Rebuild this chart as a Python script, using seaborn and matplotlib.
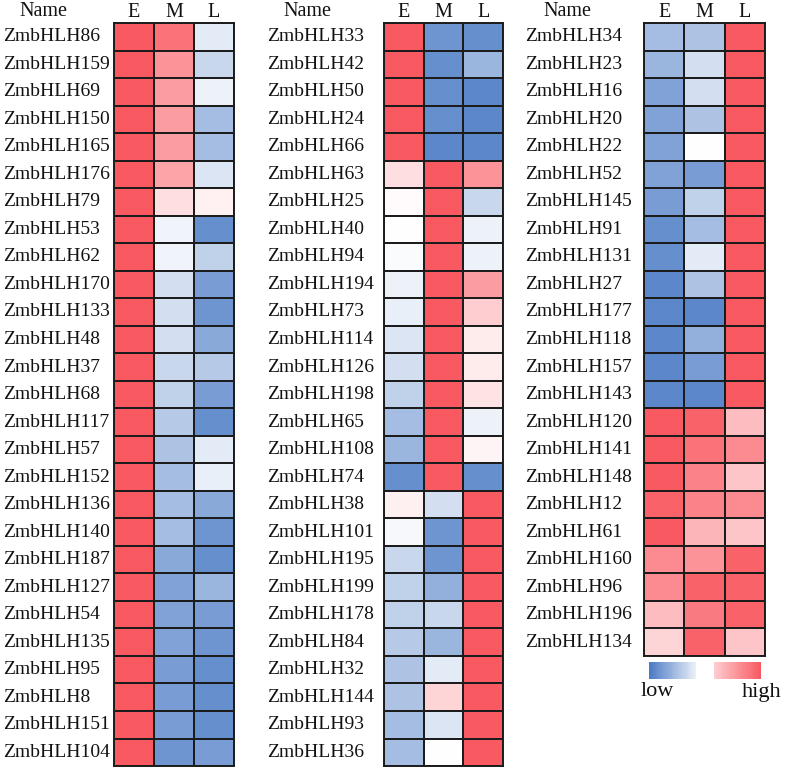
import numpy as np
import pandas as pd
import matplotlib
matplotlib.use("Agg")
import matplotlib.pyplot as plt
import seaborn as sns
from matplotlib.colors import LinearSegmentedColormap

# ---------------- data ----------------
stages = ["E", "M", "L"]

genes1 = ["ZmbHLH86", "ZmbHLH159", "ZmbHLH69", "ZmbHLH150", "ZmbHLH165", "ZmbHLH176",
          "ZmbHLH79", "ZmbHLH53", "ZmbHLH62", "ZmbHLH170", "ZmbHLH133", "ZmbHLH48",
          "ZmbHLH37", "ZmbHLH68", "ZmbHLH117", "ZmbHLH57", "ZmbHLH152", "ZmbHLH136",
          "ZmbHLH140", "ZmbHLH187", "ZmbHLH127", "ZmbHLH54", "ZmbHLH135", "ZmbHLH95",
          "ZmbHLH8", "ZmbHLH151", "ZmbHLH104"]
E1 = [1, 1, 1, 1, 1, 1, 1, 1, 1, 1, 1, 1, 1, 1, 1, 1, 1, 1, 1, 1, 1, 1, 1, 1, 1, 1, 1]
M1 = [0.85, 0.65, 0.6, 0.6, 0.6, 0.55, 0.2, -0.08, -0.08, -0.25, -0.25, -0.25, -0.3, -0.35,
      -0.4, -0.45, -0.5, -0.5, -0.5, -0.65, -0.7, -0.7, -0.7, -0.75, -0.75, -0.75, -0.8]
L1 = [-0.15, -0.3, -0.1, -0.5, -0.5, -0.2, 0.08, -0.85, -0.35, -0.75, -0.8, -0.65, -0.4, -0.75,
      -0.85, -0.15, -0.12, -0.65, -0.8, -0.85, -0.55, -0.75, -0.8, -0.85, -0.85, -0.85, -0.75]

genes2 = ["ZmbHLH33", "ZmbHLH42", "ZmbHLH50", "ZmbHLH24", "ZmbHLH66", "ZmbHLH63",
          "ZmbHLH25", "ZmbHLH40", "ZmbHLH94", "ZmbHLH194", "ZmbHLH73", "ZmbHLH114",
          "ZmbHLH126", "ZmbHLH198", "ZmbHLH65", "ZmbHLH108", "ZmbHLH74", "ZmbHLH38",
          "ZmbHLH101", "ZmbHLH195", "ZmbHLH199", "ZmbHLH178", "ZmbHLH84", "ZmbHLH32",
          "ZmbHLH144", "ZmbHLH93", "ZmbHLH36"]
E2 = [1, 1, 1, 1, 1, 0.2, 0.03, 0.0, -0.03, -0.1, -0.12, -0.2, -0.25, -0.35, -0.5, -0.55,
      -0.85, 0.1, -0.05, -0.3, -0.35, -0.35, -0.4, -0.45, -0.45, -0.5, -0.5]
M2 = [-0.8, -0.85, -0.85, -0.85, -0.9, 1, 1, 1, 1, 1, 1, 1, 1, 1, 1, 1, 1,
      -0.25, -0.8, -0.8, -0.6, -0.3, -0.55, -0.15, 0.25, -0.2, 0.0]
L2 = [-0.85, -0.55, -0.9, -0.9, -0.9, 0.65, -0.3, -0.1, -0.1, 0.6, 0.3, 0.12, 0.12, 0.17,
      -0.1, 0.07, -0.85, 1, 1, 1, 1, 1, 1, 1, 1, 1, 1]

genes3 = ["ZmbHLH34", "ZmbHLH23", "ZmbHLH16", "ZmbHLH20", "ZmbHLH22", "ZmbHLH52",
          "ZmbHLH145", "ZmbHLH91", "ZmbHLH131", "ZmbHLH27", "ZmbHLH177", "ZmbHLH118",
          "ZmbHLH157", "ZmbHLH143", "ZmbHLH120", "ZmbHLH141", "ZmbHLH148", "ZmbHLH12",
          "ZmbHLH61", "ZmbHLH160", "ZmbHLH96", "ZmbHLH196", "ZmbHLH134"]
E3 = [-0.5, -0.55, -0.7, -0.7, -0.7, -0.7, -0.75, -0.85, -0.85, -0.9, -0.9, -0.9, -0.9, -0.9,
      1, 1, 1, 0.95, 1, 0.7, 0.7, 0.4, 0.25]
M3 = [-0.45, -0.25, -0.25, -0.45, 0.0, -0.75, -0.35, -0.5, -0.15, -0.45, -0.9, -0.6, -0.75, -0.9,
      0.95, 0.85, 0.75, 0.75, 0.45, 0.65, 0.95, 0.8, 0.95]
L3 = [1, 1, 1, 1, 1, 1, 1, 1, 1, 1, 1, 1, 1, 1,
      0.4, 0.7, 0.35, 0.7, 0.35, 0.95, 0.95, 0.95, 0.35]

legend_low = "low"
legend_high = "high"

# ---------------- styling ----------------
sns.set_theme(style="white")
plt.rcParams["font.family"] = ["Liberation Serif", "DejaVu Serif"]

cmap = LinearSegmentedColormap.from_list(
    "bwr_custom", ["#4B7BC4", "#FFFFFF", "#F95A62"])

W, H = 787, 772
fig = plt.figure(figsize=(W / 100, H / 100), dpi=100)


def px_axes(left, top, width, height):
    return fig.add_axes([left / W, 1 - (top + height) / H, width / W, height / H])


# (genes, E, M, L, axes-left px, axes-width px, label-start px, "Name" centre px)
panels = [
    (genes1, E1, M1, L1, 114, 120, 3, 43),
    (genes2, E2, M2, L2, 384, 119, 267, 307),
    (genes3, E3, M3, L3, 644, 121, 525, 567),
]

row_h = 27.52
top = 23
fs_lab = 14
fs_head = 14.5

for genes, e, m, l, left, width, lab_x, name_x in panels:
    df = pd.DataFrame({"E": e, "M": m, "L": l}, index=genes)[stages]
    height = row_h * len(genes)
    ax = px_axes(left, top, width, height)
    sns.heatmap(df, ax=ax, cmap=cmap, vmin=-1, vmax=1, cbar=False,
                linewidths=1.2, linecolor="#1c1c1c", square=False)
    for s in ax.spines.values():
        s.set_visible(True)
        s.set_linewidth(1.4)
        s.set_color("#1c1c1c")
    ax.xaxis.tick_top()
    ax.set_xticklabels(stages, rotation=0, fontsize=fs_head, color="#111111")
    ax.tick_params(axis="x", length=0, pad=1)
    ax.set_yticklabels(genes, rotation=0, fontsize=fs_lab, color="#111111", ha="left")
    pad_pt = (left - lab_x) * 72 / 100
    ax.tick_params(axis="y", length=0, pad=pad_pt)
    ax.set_xlabel("")
    ax.set_ylabel("")
    fig.text(name_x / W, 1 - 12 / H, "Name", ha="center", va="center",
             fontsize=fs_head, color="#111111")

# ---------------- legend bars ----------------
low_vals = np.linspace(-1, -0.12, 50).reshape(1, -1)
high_vals = np.linspace(0.3, 1, 50).reshape(1, -1)
ax_low = px_axes(649, 662, 47, 17)
sns.heatmap(low_vals, ax=ax_low, cmap=cmap, vmin=-1, vmax=1, cbar=False,
            xticklabels=False, yticklabels=False)
ax_high = px_axes(714, 662, 47, 17)
sns.heatmap(high_vals, ax=ax_high, cmap=cmap, vmin=-1, vmax=1, cbar=False,
            xticklabels=False, yticklabels=False)
fig.text(657 / W, 1 - 692 / H, legend_low, ha="center", va="center", fontsize=16,
         color="#111111")
fig.text(762 / W, 1 - 692 / H, legend_high, ha="center", va="center", fontsize=16,
         color="#111111")

fig.savefig("out.png", dpi=100)
